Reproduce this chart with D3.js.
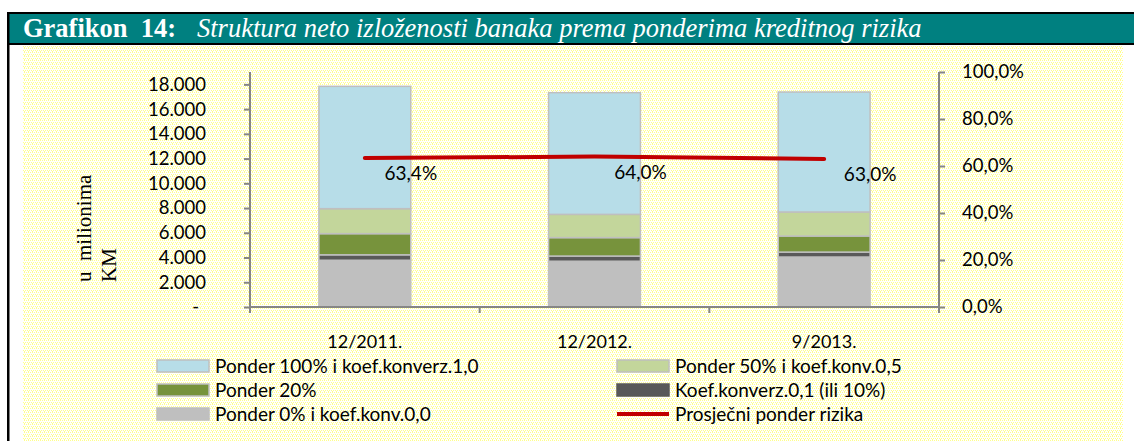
<!DOCTYPE html>
<html>
    <head>
        <meta charset="utf-8">
        <script src="https://cdn.jsdelivr.net/npm/d3@7"></script>
        <style>
            body { margin: 0; background: white; }
            svg { display: block; }
        </style>
        <script>
            // podaci (u milionima KM)
            var categories = ["12/2011.", "12/2012.", "9/2013."];
            var ponder0   = [3780, 3700, 4040];   // Ponder 0% i koef.konv.0,0
            var koef01    = [440, 420, 400];      // Koef.konverz.0,1 (ili 10%)
            var ponder20  = [1710, 1490, 1300];   // Ponder 20%
            var ponder50  = [2020, 1880, 1940];   // Ponder 50% i koef.konv.0,5
            var ponder100 = [9890, 9840, 9700];   // Ponder 100% i koef.konverz.1,0
            var prosjek   = [0.634, 0.640, 0.630]; // Prosječni ponder rizika
            var leftTicks  = [0, 2000, 4000, 6000, 8000, 10000, 12000, 14000, 16000, 18000];
            var rightTicks = [0, 0.2, 0.4, 0.6, 0.8, 1.0];

            var seriesKeys   = ["p0", "k01", "p20", "p50", "p100"];
            var seriesNames  = ["Ponder 0% i koef.konv.0,0", "Koef.konverz.0,1 (ili 10%)", "Ponder 20%",
                                "Ponder 50% i koef.konv.0,5", "Ponder 100% i koef.konverz.1,0"];
            var seriesColors = ["#bfbfbf", "#595959", "#77933c", "#c3d69b", "#b7dde8"];

            function makeSVG() {
                var svg = d3.select("body").append("svg")
                            .attr("width", 1134)
                            .attr("height", 441);

                // tackasta zuta pozadina
                var pat = svg.append("defs").append("pattern")
                             .attr("id", "dots")
                             .attr("width", 4).attr("height", 4)
                             .attr("patternUnits", "userSpaceOnUse");
                pat.append("rect").attr("width", 4).attr("height", 4).attr("fill", "#ffffff");
                [[0, 0], [2, 0], [1, 2], [3, 2], [0, 3]].forEach(function (p) {
                    pat.append("rect").attr("x", p[0]).attr("y", p[1])
                       .attr("width", 1).attr("height", 1).attr("fill", "#ffff8c");
                });

                svg.append("rect").attr("x", 23).attr("y", 45).attr("width", 1100).attr("height", 396)
                   .attr("fill", "url(#dots)");

                // naslov
                svg.append("rect").attr("x", 7).attr("y", 12).attr("width", 1127).attr("height", 33).attr("fill", "black");
                svg.append("rect").attr("x", 9).attr("y", 14).attr("width", 1125).attr("height", 29).attr("fill", "#008080");
                svg.append("rect").attr("x", 7).attr("y", 12).attr("width", 2.5).attr("height", 429).attr("fill", "black");

                var title = svg.append("text")
                               .attr("x", 23).attr("y", 36.5)
                               .attr("fill", "white")
                               .attr("font-family", "Liberation Serif")
                               .attr("font-size", "26.5px")
                               .style("white-space", "pre");
                title.append("tspan").attr("font-weight", "bold").text("Grafikon  14:");
                title.append("tspan").attr("x", 197).attr("font-style", "italic")
                     .text("Struktura neto izloženosti banaka prema ponderima kreditnog rizika");

                var data = categories.map(function (c, i) {
                    return { cat: c, p0: ponder0[i], k01: koef01[i], p20: ponder20[i], p50: ponder50[i], p100: ponder100[i], avg: prosjek[i] };
                });

                var scX = d3.scaleBand().domain(categories).range([250, 939]).paddingInner(0).paddingOuter(0);
                var scY = d3.scaleLinear().domain([0, 19000]).range([307, 72]);
                var scP = d3.scaleLinear().domain([0, 1]).range([307, 72]);

                var stack = d3.stack().keys(seriesKeys)(data);
                var barW = scX.bandwidth() * 0.4;

                svg.append("g")
                   .selectAll("g").data(stack)
                   .enter()
                   .append("g")
                   .attr("fill", (d, i) => seriesColors[i])
                   .selectAll("rect").data(d => d)
                   .enter()
                   .append("rect")
                   .attr("x", d => scX(d.data.cat) + (scX.bandwidth() - barW) / 2)
                   .attr("y", d => scY(d[1]))
                   .attr("width", barW)
                   .attr("height", d => scY(d[0]) - scY(d[1]))
                   .attr("stroke", "#bfbfbf")
                   .attr("stroke-width", 1.5);

                var font = "Lato, 'Noto Sans', sans-serif";

                // lijeva osa
                var axL = svg.append("g")
                             .attr("transform", "translate(250,0)")
                             .call(d3.axisLeft(scY).tickValues(leftTicks).tickSize(6).tickPadding(38)
                                     .tickFormat(d => d === 0 ? "-" : d3.format(",")(d).replace(/,/g, ".")));
                axL.select(".domain").remove();
                axL.append("line").attr("x1", 0).attr("x2", 0).attr("y1", 72).attr("y2", 313);
                axL.selectAll("line").attr("stroke", "#868686").attr("stroke-width", 2);
                axL.selectAll("text").attr("font-family", font).attr("font-size", "18.5px").attr("fill", "black");
                axL.selectAll(".tick text").filter(d => d === 0).attr("dx", -7);

                // desna osa
                var axR = svg.append("g")
                             .attr("transform", "translate(939,0)")
                             .call(d3.axisRight(scP).tickValues(rightTicks).tickSize(6).tickPadding(17)
                                     .tickFormat(d => d3.format(".1f")(d * 100).replace(".", ",") + "%"));
                axR.select(".domain").remove();
                axR.append("line").attr("x1", 0).attr("x2", 0).attr("y1", 72).attr("y2", 313);
                axR.selectAll("line").attr("stroke", "#868686").attr("stroke-width", 2);
                axR.selectAll("text").attr("font-family", font).attr("font-size", "18.5px").attr("fill", "black");

                // x osa
                var axX = svg.append("g")
                             .attr("transform", "translate(0,307)")
                             .call(d3.axisBottom(scX).tickSize(0).tickPadding(28));
                axX.select(".domain").remove();
                axX.append("line").attr("x1", 250).attr("x2", 939).attr("y1", 0).attr("y2", 0);
                axX.selectAll(".sep").data(categories.slice(1))
                   .enter()
                   .append("line")
                   .attr("x1", d => scX(d)).attr("x2", d => scX(d))
                   .attr("y1", 0).attr("y2", 6);
                axX.selectAll("line").attr("stroke", "#868686").attr("stroke-width", 2);
                axX.selectAll("text").attr("font-family", font).attr("font-size", "18px").attr("fill", "black");

                // naslov ose
                var yt = svg.append("text")
                            .attr("transform", "translate(91,282) rotate(-90)")
                            .attr("font-family", "Liberation Serif")
                            .attr("font-size", "21px")
                            .style("white-space", "pre");
                yt.append("tspan").attr("x", 0).attr("y", 0).text("u  milionima");
                yt.append("tspan").attr("x", 0).attr("y", 25).text("KM");

                // prosjecni ponder
                var lineMkr = d3.line()
                                .x(d => scX(d.cat) + scX.bandwidth() / 2)
                                .y(d => scP(d.avg));

                svg.append("path")
                   .attr("d", lineMkr(data))
                   .attr("fill", "none")
                   .attr("stroke", "#c00000")
                   .attr("stroke-width", 4)
                   .attr("stroke-linecap", "round");

                svg.append("g")
                   .selectAll("text").data(data)
                   .enter()
                   .append("text")
                   .attr("x", d => scX(d.cat) + scX.bandwidth() / 2 + 46)
                   .attr("y", d => scP(d.avg) + 22)
                   .attr("text-anchor", "middle")
                   .attr("font-family", font)
                   .attr("font-size", "19px")
                   .text(d => d3.format(".1f")(d.avg * 100).replace(".", ",") + "%");

                // legenda
                var legend = [
                    { name: seriesNames[4], color: seriesColors[4], col: 0, row: 0 },
                    { name: seriesNames[3], color: seriesColors[3], col: 1, row: 0 },
                    { name: seriesNames[2], color: seriesColors[2], col: 0, row: 1 },
                    { name: seriesNames[1], color: seriesColors[1], col: 1, row: 1 },
                    { name: seriesNames[0], color: seriesColors[0], col: 0, row: 2 },
                    { name: "Prosječni ponder rizika", color: "#c00000", col: 1, row: 2, line: true }
                ];

                var lg = svg.append("g")
                            .selectAll("g").data(legend)
                            .enter()
                            .append("g")
                            .attr("transform", d => "translate(" + (d.col ? 617 : 157) + "," + (366 + d.row * 24) + ")");

                lg.filter(d => !d.line)
                  .append("rect")
                  .attr("x", 0).attr("y", -6)
                  .attr("width", 52).attr("height", 12)
                  .attr("fill", d => d.color)
                  .attr("stroke", d => d.color === "#595959" ? "#595959" : "#bfbfbf")
                  .attr("stroke-width", 1.5);

                lg.filter(d => d.line)
                  .append("line")
                  .attr("x1", 0).attr("x2", 52)
                  .attr("y1", 0).attr("y2", 0)
                  .attr("stroke", d => d.color)
                  .attr("stroke-width", 4);

                lg.append("text")
                  .attr("x", 58).attr("y", 0).attr("dy", "0.35em")
                  .attr("font-family", font)
                  .attr("font-size", "19px")
                  .text(d => d.name);
            }
        </script>
    </head>
    <body onload="makeSVG()">
    </body>
</html>
